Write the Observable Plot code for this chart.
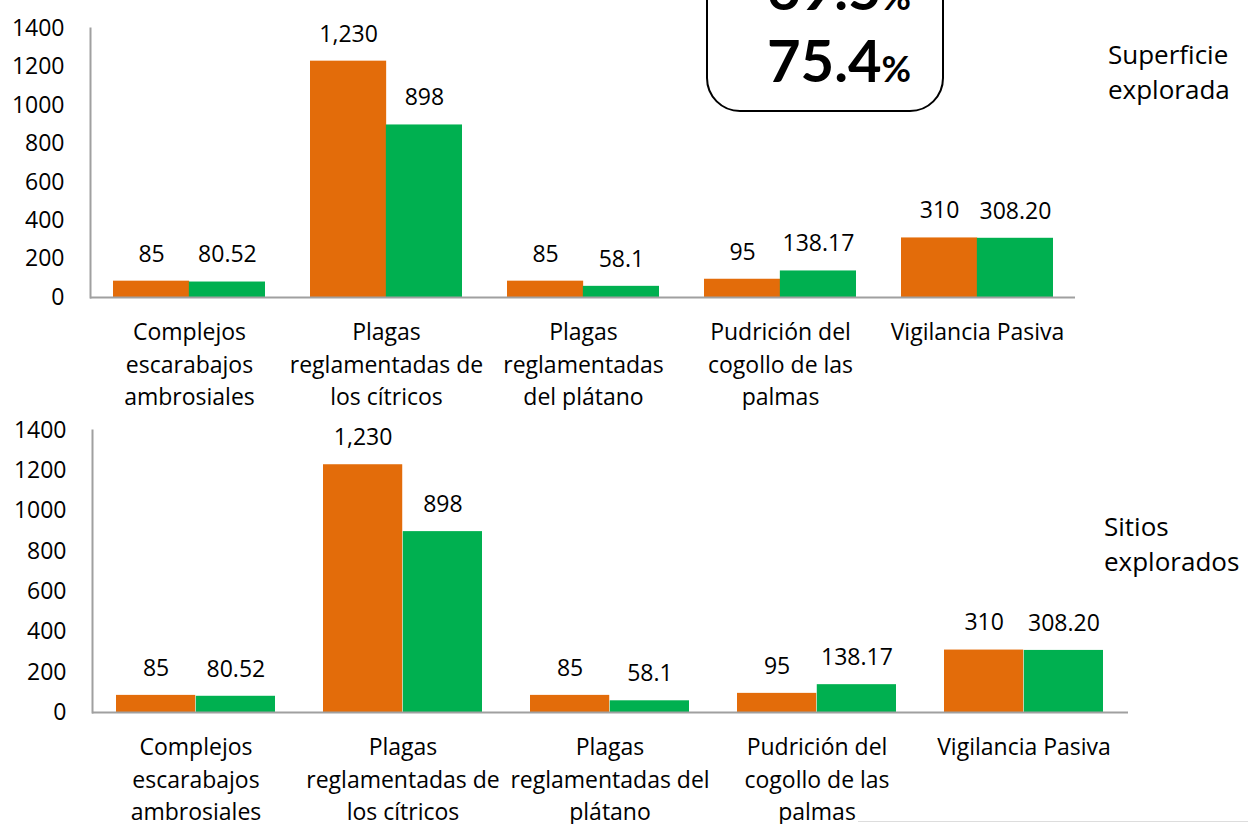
<!DOCTYPE html>
<html>
<head>
<meta charset="utf-8">
<script src="https://cdn.jsdelivr.net/npm/d3@7"></script>
<script src="https://cdn.jsdelivr.net/npm/@observablehq/plot@0.6"></script>
<style>
  html, body { margin: 0; padding: 0; background: #fff; }
  #wrap { position: relative; width: 1248px; height: 824px; overflow: hidden; font-family: "Open Sans", Lato, sans-serif; color: #000; }
  .abs { position: absolute; }
  .side { position: absolute; font-size: 26px; line-height: 35px; }
  #box { position: absolute; left: 706px; top: -40px; width: 234px; height: 148px; border: 2.5px solid #000; border-radius: 34px; }
  .big { position: absolute; left: 14px; width: 100%; text-align: center; font-family: Lato, sans-serif; font-weight: 700; font-size: 58px; line-height: 58px; }
  .big span { font-size: 36px; }
</style>
</head>
<body>
<div id="wrap">
  <div id="top" class="abs" style="left:0;top:0"></div>
  <div id="bottom" class="abs" style="left:0;top:410px"></div>
  <div id="box">
    <div class="big" style="top:-3px">69.5<span>%</span></div>
    <div class="big" style="top:69px">75.4<span>%</span></div>
  </div>
  <div class="side" style="left:1108px;top:37px">Superficie<br>explorada</div>
  <div class="side" style="left:1104px;top:509px">Sitios<br>explorados</div>
  <div class="abs" style="left:858px;top:821px;width:390px;height:1px;background:#ddd"></div>
</div>
<script>
const categories = [
  "Complejos escarabajos ambrosiales",
  "Plagas reglamentadas de los cítricos",
  "Plagas reglamentadas del plátano",
  "Pudrición del cogollo de las palmas",
  "Vigilancia Pasiva"
];
const labelsTop = [
  "Complejos\nescarabajos\nambrosiales",
  "Plagas\nreglamentadas de\nlos cítricos",
  "Plagas\nreglamentadas\ndel plátano",
  "Pudrición del\ncogollo de las\npalmas",
  "Vigilancia Pasiva"
];
const labelsBottom = [
  "Complejos\nescarabajos\nambrosiales",
  "Plagas\nreglamentadas de\nlos cítricos",
  "Plagas\nreglamentadas del\nplátano",
  "Pudrición del\ncogollo de las\npalmas",
  "Vigilancia Pasiva"
];
const orangeValues = [85, 1230, 85, 95, 310];
const greenValues = [80.52, 898, 58.1, 138.17, 308.20];
const orangeLabels = ["85", "1,230", "85", "95", "310"];
const greenLabels = ["80.52", "898", "58.1", "138.17", "308.20"];
const yTicks = [0, 200, 400, 600, 800, 1000, 1200, 1400];

const ORANGE = "#E36C0A";
const GREEN = "#00B050";
const AXIS = "#A0A0A0";
const FONT = "'Open Sans', Lato, sans-serif";
const FS = 23;

function makeChart({height, marginLeft, marginRight, marginTop, marginBottom, labels, labelDy}) {
  const width = 1248;
  const pInner = 0.23, pOuter = 0.115;
  const range = width - marginLeft - marginRight;
  const step = range / (categories.length - pInner + 2 * pOuter);
  const bw = step * (1 - pInner);
  const orange = categories.map((c, i) => ({c, v: orangeValues[i], t: orangeLabels[i]}));
  const green = categories.map((c, i) => ({c, v: greenValues[i], t: greenLabels[i]}));
  const cats = categories.map((c, i) => ({c, t: labels[i]}));
  return Plot.plot({
    width, height, marginLeft, marginRight, marginTop, marginBottom,
    style: {fontFamily: FONT, fontSize: FS + "px", color: "#000", background: "#fff", overflow: "visible"},
    x: {domain: categories, paddingInner: pInner, paddingOuter: pOuter, axis: null},
    y: {domain: [0, 1400], axis: null},
    marks: [
      Plot.barY(orange, {x: "c", y: "v", fill: ORANGE, insetRight: bw / 2}),
      Plot.barY(green, {x: "c", y: "v", fill: GREEN, insetLeft: bw / 2}),
      Plot.ruleY([0], {stroke: AXIS, strokeWidth: 2}),
      Plot.frame({anchor: "left", stroke: AXIS, strokeWidth: 2}),
      Plot.axisY(yTicks, {tickSize: 0, tickPadding: 26, fontSize: FS, tickFormat: d => String(d), fill: "#000", label: null}),
      Plot.text(orange, {x: "c", y: "v", text: "t", dx: -bw / 4, dy: -27, fontSize: FS, fill: "#000"}),
      Plot.text(green, {x: "c", y: "v", text: "t", dx: bw / 4, dy: -27, fontSize: FS, fill: "#000"}),
      Plot.text(cats, {x: "c", y: () => 0, text: "t", lineAnchor: "top", dy: labelDy, lineHeight: 1.4, fontSize: FS, fill: "#000"})
    ]
  });
}

document.getElementById("top").appendChild(makeChart({
  height: 410, marginLeft: 90, marginRight: 173, marginTop: 28, marginBottom: 113,
  labels: labelsTop, labelDy: 20
}));
document.getElementById("bottom").appendChild(makeChart({
  height: 414, marginLeft: 92, marginRight: 120, marginTop: 20, marginBottom: 112,
  labels: labelsBottom, labelDy: 20
}));
</script>
</body>
</html>
